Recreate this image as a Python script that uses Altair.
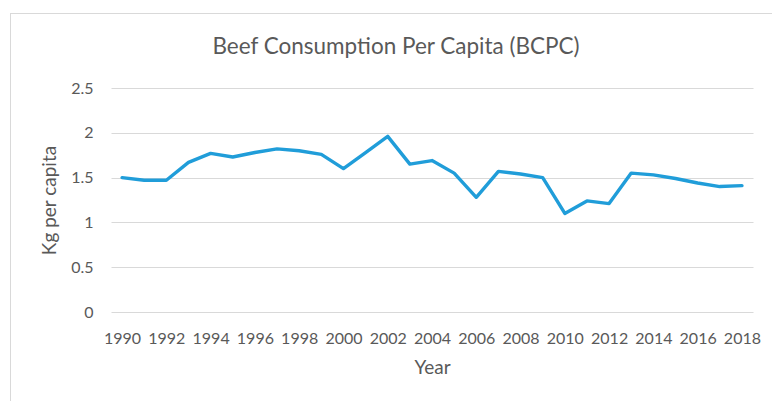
import altair as alt
import pandas as pd

years = [str(y) for y in range(1990, 2019)]
bcpc = [1.50, 1.47, 1.47, 1.67, 1.77, 1.73, 1.78, 1.82, 1.80, 1.76,
        1.60, 1.78, 1.96, 1.65, 1.69, 1.55, 1.28, 1.57, 1.54, 1.50,
        1.10, 1.24, 1.21, 1.55, 1.53, 1.49, 1.44, 1.40, 1.41]
shown_years = [str(y) for y in range(1990, 2019, 2)]

df = pd.DataFrame({"Year": years, "BCPC": bcpc})

FONT = "Lato"
GREY = "#595959"
GRID = "#d9d9d9"

line = alt.Chart(df).mark_line(
    color="#209dd9", strokeWidth=3.4, strokeJoin="round", strokeCap="round"
).encode(
    x=alt.X(
        "Year:O",
        scale=alt.Scale(type="point", padding=0.5),
        axis=alt.Axis(
            title="Year", values=shown_years, labelAngle=0, ticks=False,
            domain=False, grid=False, labelPadding=18, titlePadding=12,
            labelFontSize=16, titleFontSize=19,
        ),
    ),
    y=alt.Y(
        "BCPC:Q",
        scale=alt.Scale(domain=[0, 2.5]),
        axis=alt.Axis(
            title="Kg per capita", values=[0, 0.5, 1, 1.5, 2, 2.5],
            format="~g", ticks=False, domain=False, grid=True, labelPadding=18,
            labelFontSize=16, titleFontSize=19,
            titleX=-62, titleY=112, titleAngle=-90,
            titleAlign="center", titleBaseline="middle",
        ),
    ),
)

# outer chart frame
frame = alt.Chart(df).mark_rect(
    fill=None, stroke=GRID, strokeWidth=1
).encode(
    x=alt.value(-100.5), x2=alt.value(700), y=alt.value(-74.5), y2=alt.value(400)
)

chart = alt.layer(frame, line).properties(
    width=642,
    height=224,
    autosize=alt.AutoSizeParams(type="none"),
    padding={"left": 111, "top": 88, "right": 19, "bottom": 89},
    background="white",
    title=alt.TitleParams(
        "Beef Consumption Per Capita (BCPC)",
        font=FONT, fontSize=22.5, fontWeight="normal", color=GREY,
        anchor="middle", frame="group", dx=-36, offset=-45,
    ),
).configure_view(stroke=None).configure_axis(
    labelFont=FONT, titleFont=FONT, labelColor=GREY, titleColor=GREY,
    titleFontWeight="normal", gridColor=GRID, gridWidth=1,
)

chart.save("out.html", embed_options={"renderer": "svg", "actions": False})
